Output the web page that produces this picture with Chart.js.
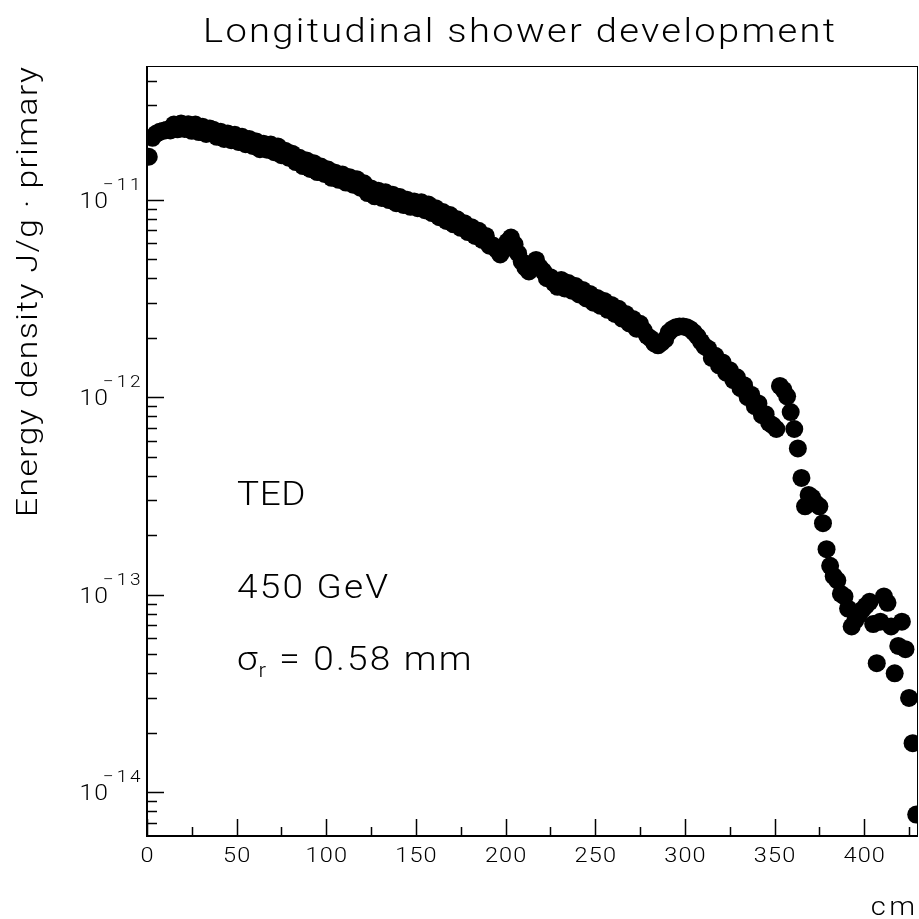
<!DOCTYPE html>
<html>
<head>
<meta charset="utf-8">
<script src="https://cdn.jsdelivr.net/npm/chart.js@4.4.0/dist/chart.umd.min.js"></script>
<style>
  html, body { margin: 0; padding: 0; background: #fff; }
</style>
</head>
<body>
<canvas id="showerChart" width="919" height="919"></canvas>
<script>
// 2 cm bins along the beam axis, first bin starts at 0 cm
const binWidth = 2;
const xRange = [0, 430];
const yRange = [6.1e-15, 4.75e-11];

const xMajorTicks = [0, 50, 100, 150, 200, 250, 300, 350, 400];
const xMinorTicks = [25, 75, 125, 175, 225, 275, 325, 375, 425];
const yDecades = [1e-14, 1e-13, 1e-12, 1e-11];
const yExponents = ['\u221214', '\u221213', '\u221212', '\u221211'];

// energy density per bin, in units of 1e-12 J/g per primary
const densityUnit = 1e-12;
const energyDensity = [
  16.49, 20.57, 21.54, 22.05, 22.31, 22.57,
  22.4, 24.0, 22.7, 24.3, 22.8, 24.1,
  22.3, 24.0, 22.0, 23.4, 21.5, 22.9,
  22.6, 20.8, 22.1, 20.3, 21.6, 20.0,
  21.3, 19.6, 20.8, 19.1, 20.3, 18.7,
  19.7, 18.0, 19.2, 17.9, 19.0, 17.4,
  18.6, 16.8, 17.7, 16.3, 17.1, 15.5,
  16.3, 14.8, 15.8, 14.3, 15.3, 13.8,
  14.7, 13.5, 14.2, 12.9, 13.7, 12.6,
  13.4, 12.2, 13.0, 11.9, 12.7, 11.5,
  12.1, 10.8, 11.4, 10.4, 11.1, 10.2,
  10.9, 9.95, 10.6, 9.6, 10.3, 9.4,
  10.0, 9.2, 9.8, 9.05, 9.7, 8.85,
  9.45, 8.55, 9.05, 8.15, 8.65, 7.8,
  8.35, 7.5, 7.95, 7.2, 7.6, 6.85,
  7.25, 6.55, 6.95, 6.25, 6.55, 5.85,
  5.86, 5.59, 5.28, 5.59, 6.14, 6.43,
  5.93, 5.34, 4.86, 4.54, 4.33, 4.70,
  4.95, 4.55, 4.35, 4.00, 4.05, 3.78,
  3.62, 3.92, 3.55, 3.78, 3.46, 3.65,
  3.31, 3.49, 3.16, 3.33, 3.01, 3.18,
  2.90, 3.07, 2.77, 2.93, 2.64, 2.80,
  2.50, 2.64, 2.36, 2.49, 2.22, 2.35,
  2.18, 2.04, 1.98, 1.87, 1.83, 1.89,
  1.96, 2.13, 2.21, 2.26, 2.28, 2.28,
  2.26, 2.21, 2.13, 2.03, 1.91, 1.81,
  1.76, 1.58, 1.62, 1.45, 1.50, 1.33,
  1.37, 1.22, 1.26, 1.11, 1.15, 1.00,
  1.03, 0.90, 0.93, 0.81, 0.82, 0.74,
  0.72, 0.69,
  // dump region: statistics get thin here
  1.14, 1.09, 1.01, 0.84, 0.69, 0.55, 0.39, 0.28, 0.32, 0.31,
  0.29, 0.28, 0.23, 0.17, 0.14, 0.124, 0.118, 0.101, 0.098, 0.085,
  0.069, 0.074, 0.079, 0.084, 0.088, 0.092, 0.071, 0.045, 0.073, 0.098,
  0.091, 0.069, 0.040, 0.055, 0.073, 0.053, 0.030, 0.0177, 0.0077
];

const FONT = '"Roboto", "Liberation Sans", sans-serif';
const STRETCH = 1.12;   // glyphs a bit wider than Roboto

const points = energyDensity.map((v, i) => ({
  x: binWidth * (i + 0.5),
  y: v * densityUnit
}));

// text with extra tracking and horizontal stretch, aligned by visible width
function spacedText(ctx, text, x, y, size, spacing, align) {
  ctx.font = '300 ' + size + 'px ' + FONT;
  ctx.letterSpacing = spacing + 'px';
  const w = (ctx.measureText(text).width - spacing) * STRETCH;
  let left = x;
  if (align === 'center') left = x - w / 2;
  else if (align === 'right') left = x - w;
  ctx.save();
  ctx.translate(left, y);
  ctx.scale(STRETCH, 1);
  ctx.textAlign = 'left';
  ctx.fillText(text, 0, 0);
  ctx.restore();
  return left + w;
}

function fittedText(ctx, text, cx, y, size, width) {
  ctx.font = '300 ' + size + 'px ' + FONT;
  ctx.letterSpacing = '0px';
  const w = ctx.measureText(text).width * STRETCH;
  const spacing = (width - w) / (([...text].length - 1) * STRETCH);
  spacedText(ctx, text, cx, y, size, spacing, 'center');
}

const rootFrame = {
  id: 'rootFrame',
  afterDraw(chart) {
    const { ctx, chartArea: a, scales: { x, y } } = chart;
    ctx.save();
    ctx.fillStyle = '#000';
    ctx.strokeStyle = '#000';

    // frame and axes
    ctx.lineWidth = 1;
    ctx.strokeRect(a.left + 0.5, a.top + 0.5, a.right - a.left - 1, a.bottom - a.top - 1);
    ctx.lineWidth = 2;
    ctx.beginPath();
    ctx.moveTo(a.left, a.top);
    ctx.lineTo(a.left, a.bottom);
    ctx.lineTo(a.right, a.bottom);
    ctx.stroke();

    // x ticks point into the frame
    ctx.lineWidth = 1.5;
    ctx.beginPath();
    xMajorTicks.forEach(t => {
      const px = Math.round(x.getPixelForValue(t)) + 0.5;
      ctx.moveTo(px, a.bottom); ctx.lineTo(px, a.bottom - 17);
    });
    xMinorTicks.forEach(t => {
      const px = Math.round(x.getPixelForValue(t)) + 0.5;
      ctx.moveTo(px, a.bottom); ctx.lineTo(px, a.bottom - 9);
    });

    // y ticks: decades plus 2..9 subdivisions
    yDecades.concat([1e-15, 1e-10]).forEach(d => {
      for (let m = 1; m <= 9; m++) {
        const v = m * d;
        if (v < yRange[0] || v > yRange[1]) continue;
        const py = Math.round(y.getPixelForValue(v)) + 0.5;
        ctx.moveTo(a.left, py);
        ctx.lineTo(a.left + (m === 1 ? 17 : 10), py);
      }
    });
    ctx.stroke();

    // x tick labels
    xMajorTicks.forEach(t => {
      spacedText(ctx, String(t), x.getPixelForValue(t), a.bottom + 26, 21, 1, 'center');
    });

    // y tick labels as 10 with a raised exponent
    yDecades.forEach((d, i) => {
      const py = y.getPixelForValue(d);
      spacedText(ctx, '10', 108, py + 8, 22, 1, 'right');
      spacedText(ctx, yExponents[i], 103, py - 10, 17, 2.5, 'left');
    });

    // titles
    fittedText(ctx, 'Longitudinal shower development', 519, 42, 34, 632);

    ctx.save();
    ctx.translate(37, 292);
    ctx.rotate(-Math.PI / 2);
    fittedText(ctx, 'Energy density J/g \u00b7 primary', 0, 0, 30, 450);
    ctx.restore();

    spacedText(ctx, 'cm', 915, 915, 26, 3, 'right');

    // run description
    spacedText(ctx, 'TED', 237, 505, 33, 0.5, 'left');
    spacedText(ctx, '450 GeV', 237, 598, 33, 2, 'left');
    let end = spacedText(ctx, '\u03c3', 237, 670, 33, 0, 'left');
    end = spacedText(ctx, 'r', end + 1, 677, 20, 0, 'left');
    spacedText(ctx, ' = 0.58 mm', end + 2, 670, 33, 2, 'left');

    ctx.restore();
  }
};

new Chart(document.getElementById('showerChart'), {
  type: 'scatter',
  data: {
    datasets: [{
      data: points,
      backgroundColor: '#000',
      borderWidth: 0,
      pointRadius: 9,
      pointHoverRadius: 9,
      clip: 0
    }]
  },
  options: {
    responsive: false,
    animation: false,
    devicePixelRatio: 1,
    layout: {
      autoPadding: false,
      padding: { left: 147, right: 1, top: 66, bottom: 83 }
    },
    plugins: {
      legend: { display: false },
      tooltip: { enabled: false }
    },
    scales: {
      x: {
        type: 'linear',
        min: xRange[0],
        max: xRange[1],
        grid: { display: false, drawTicks: false },
        border: { display: false },
        ticks: { display: false }
      },
      y: {
        type: 'logarithmic',
        min: yRange[0],
        max: yRange[1],
        grid: { display: false, drawTicks: false },
        border: { display: false },
        ticks: { display: false }
      }
    }
  },
  plugins: [rootFrame]
});
</script>
</body>
</html>
